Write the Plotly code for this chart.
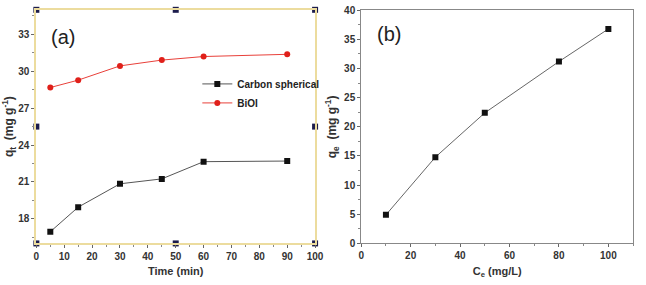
import plotly.graph_objects as go

# Panel (a) data
time_min = [5, 15, 30, 45, 60, 90]
carbon_qt = [16.95, 18.95, 20.85, 21.25, 22.65, 22.7]
bioi_qt = [28.68, 29.28, 30.44, 30.91, 31.2, 31.38]

# Panel (b) data
ce = [10, 30, 50, 80, 100]
qe = [4.9, 14.8, 22.4, 31.2, 36.8]

xa_range = [0, 100]
ya_range = [16, 35]
xb_range = [0, 110]
yb_range = [0, 40]

FONT = "Liberation Sans, Arial, sans-serif"
W, H = 646, 285

fig = go.Figure()

fig.add_trace(go.Scatter(
    x=time_min, y=carbon_qt, mode="lines+markers", name="Carbon spherical",
    line=dict(color="#555555", width=1),
    marker=dict(symbol="square", size=6, color="#111111"),
    xaxis="x", yaxis="y"))
fig.add_trace(go.Scatter(
    x=time_min, y=bioi_qt, mode="lines+markers", name="BiOI",
    line=dict(color="#e8403a", width=1),
    marker=dict(symbol="circle", size=6, color="#e0201a"),
    xaxis="x", yaxis="y"))

# frame handle markers (decoration of panel a)
xm = (xa_range[0] + xa_range[1]) / 2
ym = (ya_range[0] + ya_range[1]) / 2
hx = [xa_range[0], xm, xa_range[1], xa_range[0], xm, xa_range[1], xa_range[0], xa_range[1]]
hy = [ya_range[1]] * 3 + [ya_range[0]] * 3 + [ym, ym]
fig.add_trace(go.Scatter(
    x=hx, y=hy, mode="markers", showlegend=False, cliponaxis=False,
    marker=dict(symbol="square", size=6, color="#1c1c4c"),
    hoverinfo="skip", xaxis="x", yaxis="y"))

fig.add_trace(go.Scatter(
    x=ce, y=qe, mode="lines+markers", showlegend=False,
    line=dict(color="#666666", width=1),
    marker=dict(symbol="square", size=6, color="#111111"),
    xaxis="x2", yaxis="y2"))

tickfont = dict(family=FONT, size=10, color="#333333", weight="bold")
titlefont = dict(family=FONT, size=11, color="#333333", weight="bold")
ytitlefont = dict(family=FONT, size=12, color="#333333", weight="bold")

fig.update_layout(
    width=W, height=H,
    margin=dict(l=0, r=0, t=0, b=0),
    paper_bgcolor="white", plot_bgcolor="white",
    showlegend=True,
    legend=dict(x=198 / W, y=1 - 67 / H, xanchor="left", yanchor="top",
                bgcolor="rgba(0,0,0,0)",
                font=dict(family=FONT, size=10, color="#222222", weight="bold"),
                itemwidth=30, tracegroupgap=0),
    xaxis=dict(domain=[34 / W, 318 / W], range=xa_range, anchor="y",
               showgrid=False, zeroline=False,
               showline=True, mirror=True, linecolor="#ecdc9e", linewidth=2,
               ticks="outside", ticklen=3, tickcolor="#666666",
               tickvals=list(range(0, 101, 10)),
               minor=dict(ticks="outside", ticklen=2, tickcolor="#888888", dtick=5),
               tickfont=tickfont,
               title=dict(text="Time (min)", font=titlefont, standoff=6)),
    yaxis=dict(domain=[1 - 248 / H, 1 - 5 / H], range=ya_range, anchor="x",
               showgrid=False, zeroline=False,
               showline=True, mirror=True, linecolor="#ecdc9e", linewidth=2,
               ticks="outside", ticklen=3, tickcolor="#666666",
               tickvals=[18, 21, 24, 27, 30, 33],
               minor=dict(ticks="outside", ticklen=2, tickcolor="#888888",
                          tickvals=[16.5, 19.5, 22.5, 25.5, 28.5, 31.5, 34.5]),
               tickfont=tickfont,
               title=dict(text="q<sub>t</sub>  (mg g<sup>-1</sup>)", font=ytitlefont, standoff=4)),
    xaxis2=dict(domain=[365 / W, 642 / W], range=xb_range, anchor="y2",
                showgrid=False, zeroline=False,
                showline=True, mirror=True, linecolor="#888888", linewidth=1,
                ticks="outside", ticklen=3, tickcolor="#666666",
                tickvals=list(range(0, 101, 20)),
                minor=dict(ticks="outside", ticklen=2, tickcolor="#888888", dtick=10),
                tickfont=tickfont,
                title=dict(text="C<sub>e</sub> (mg/L)", font=titlefont, standoff=6)),
    yaxis2=dict(domain=[1 - 248 / H, 1 - 5.5 / H], range=yb_range, anchor="x2",
                showgrid=False, zeroline=False,
                showline=True, mirror=True, linecolor="#888888", linewidth=1,
                ticks="outside", ticklen=3, tickcolor="#666666",
                tickvals=list(range(0, 41, 5)),
                minor=dict(ticks="outside", ticklen=2, tickcolor="#888888", dtick=2.5),
                tickfont=tickfont,
                title=dict(text="q<sub>e</sub>  (mg g<sup>-1</sup>)", font=ytitlefont, standoff=4)),
)

ann = [
    dict(text="(a)", x=61 / W, y=1 - 33 / H, font=dict(family=FONT, size=20, color="#222222")),
    dict(text="(b)", x=393 / W, y=1 - 30 / H, font=dict(family=FONT, size=20, color="#222222")),
]
for a in ann:
    a.update(xref="paper", yref="paper", showarrow=False, xanchor="center", yanchor="middle")
fig.update_layout(annotations=ann)

fig.write_html("out.html")
